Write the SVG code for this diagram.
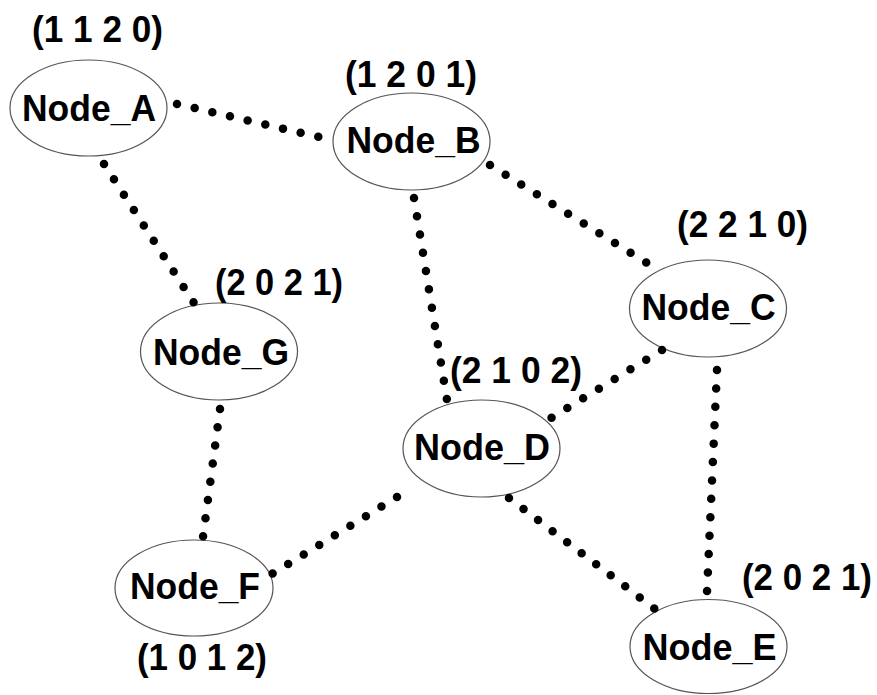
<svg xmlns="http://www.w3.org/2000/svg" width="877" height="695" viewBox="0 0 877 695">
<style>
.node ellipse{fill:#fff;stroke:#555;stroke-width:1.2}
.node text,.lbl{font-family:"Liberation Sans",Arial,sans-serif;font-weight:bold;font-size:36px;fill:#000}
.node text{text-anchor:middle}
#connectors path{fill:none;stroke:#000;stroke-width:8.5;stroke-linecap:round;stroke-dasharray:0 0.995}
</style>
<rect width="877" height="695" fill="#fff"/>
<g id="node_a" class="node"><ellipse cx="88.5" cy="108" rx="78.5" ry="48"/><text x="89" y="121" textLength="134" lengthAdjust="spacingAndGlyphs">Node_A</text></g>
<g id="node_b" class="node"><ellipse cx="411.5" cy="141.5" rx="78.5" ry="48.5"/><text x="413.5" y="153" textLength="134" lengthAdjust="spacingAndGlyphs">Node_B</text></g>
<g id="node_c" class="node"><ellipse cx="708" cy="308.5" rx="78.5" ry="48.5"/><text x="708.5" y="320" textLength="134" lengthAdjust="spacingAndGlyphs">Node_C</text></g>
<g id="node_g" class="node"><ellipse cx="219" cy="351.5" rx="78.5" ry="48.5"/><text x="221" y="365" textLength="136" lengthAdjust="spacingAndGlyphs">Node_G</text></g>
<g id="node_d" class="node"><ellipse cx="481.5" cy="448.5" rx="78.5" ry="48.5"/><text x="482" y="460" textLength="136" lengthAdjust="spacingAndGlyphs">Node_D</text></g>
<g id="node_f" class="node"><ellipse cx="194" cy="588" rx="79" ry="48"/><text x="195" y="599" textLength="130" lengthAdjust="spacingAndGlyphs">Node_F</text></g>
<g id="node_e" class="node"><ellipse cx="708.5" cy="646.5" rx="78.5" ry="47"/><text x="709.5" y="660" textLength="134" lengthAdjust="spacingAndGlyphs">Node_E</text></g>
<g id="connectors">
<path d="M177,104 L319,137" pathLength="8"/>
<path d="M104,164 L194,303" pathLength="9"/>
<path d="M414,198 L447,400" pathLength="11"/>
<path d="M490,165 L647,263" pathLength="10"/>
<path d="M662,350 L551,418" pathLength="7"/>
<path d="M717,370 L707,592" pathLength="12"/>
<path d="M220,409 L203,537" pathLength="7"/>
<path d="M397,497 L272,574" pathLength="8"/>
<path d="M509,498 L655,609" pathLength="10"/>
</g>
<g id="labels">
<text class="lbl" x="32" y="42" textLength="131" lengthAdjust="spacingAndGlyphs">(1 1 2 0)</text>
<text class="lbl" x="345" y="87" textLength="132" lengthAdjust="spacingAndGlyphs">(1 2 0 1)</text>
<text class="lbl" x="677" y="237" textLength="131" lengthAdjust="spacingAndGlyphs">(2 2 1 0)</text>
<text class="lbl" x="215" y="295" textLength="128" lengthAdjust="spacingAndGlyphs">(2 0 2 1)</text>
<text class="lbl" x="450" y="383" textLength="132" lengthAdjust="spacingAndGlyphs">(2 1 0 2)</text>
<text class="lbl" x="137" y="670" textLength="130" lengthAdjust="spacingAndGlyphs">(1 0 1 2)</text>
<text class="lbl" x="742" y="590" textLength="130" lengthAdjust="spacingAndGlyphs">(2 0 2 1)</text>
</g>
</svg>
